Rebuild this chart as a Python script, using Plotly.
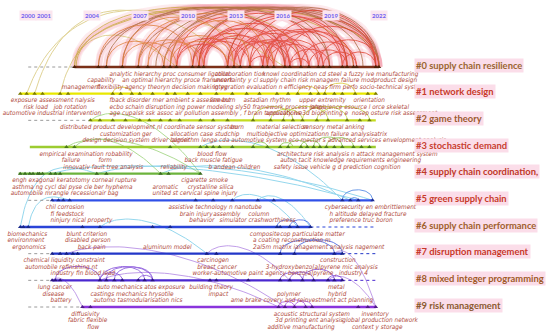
import plotly.graph_objects as go

# ---------------- data ----------------
cluster_names = ["#0 supply chain resilience", "#1 network design", "#2 game theory",
                 "#3 stochastic demand", "#4 supply chain coordination,", "#5 green supply chain",
                 "#6 supply chain performance", "#7 disruption management",
                 "#8 mixed integer programming", "#9 risk management"]

year_ticks = [2000, 2001, 2004, 2007, 2010, 2013, 2016, 2019, 2022]

line_start = [2002.9, 1999.5, 2003.9, 2000.1, 1999.4, 2001.5, 1999.5, 2001.5, 2001.5, 2003.4]
line_end = [2022.0, 2021.8, 2021.8, 2021.8, 2010.8, 2021.6, 2017.7, 2019.7, 2019.7, 2021.8]

nodes = [
    [2002.9, 2004.4, 2004.9, 2005.9, 2006.9, 2007.5, 2008.5, 2008.9, 2009.3, 2010.3, 2010.7, 2011.0,
     2012.5, 2012.9, 2013.3, 2013.9, 2014.7, 2015.0, 2015.4, 2016.1, 2016.4, 2017.1, 2017.6, 2018.2,
     2018.5, 2018.9, 2019.7, 2020.0, 2020.4, 2020.6, 2021.8, 2022.0],
    [1999.5, 1999.9, 2000.4, 2000.9, 2002.0, 2002.5, 2005.3, 2005.8, 2006.5, 2007.0, 2007.8, 2008.7,
     2009.2, 2010.0, 2010.8, 2011.8, 2012.8, 2013.7, 2014.5, 2015.6, 2016.3, 2016.9, 2017.7, 2018.2,
     2018.6, 2019.2, 2019.7, 2020.5, 2021.3, 2021.8],
    [2003.9, 2004.5, 2005.3, 2006.1, 2007.0, 2007.6, 2008.3, 2008.9, 2009.5, 2010.8, 2011.6, 2012.5,
     2014.1, 2015.2, 2016.0, 2016.6, 2017.2, 2018.1, 2018.8, 2020.0, 2020.8, 2021.4],
    [2002.4, 2002.9, 2008.9, 2010.8, 2011.2, 2011.6, 2012.0, 2012.8, 2014.1, 2015.0, 2015.8, 2016.3,
     2017.1, 2017.5, 2017.9, 2018.3, 2018.7, 2019.2, 2019.7, 2020.4, 2020.9, 2021.4],
    [1999.5, 1999.8, 2000.1, 2000.3, 2000.6, 2000.7, 2000.9, 2001.4, 2001.7, 2002.0, 2004.3, 2004.9,
     2008.3, 2008.8, 2010.8],
    [2001.5, 2001.9, 2002.2, 2002.6, 2010.5, 2011.6, 2012.8, 2014.4, 2015.4, 2019.7, 2020.2, 2020.7,
     2021.6],
    [1999.5, 1999.7, 2000.0, 2003.4, 2004.5, 2007.8, 2008.9, 2015.6, 2015.8, 2016.4, 2016.9, 2017.7],
    [2001.5, 2002.0, 2002.4, 2002.8, 2003.1, 2011.2, 2011.8, 2015.8, 2016.7, 2019.2, 2019.7],
    [2001.5, 2001.7, 2002.0, 2004.5, 2004.9, 2005.4, 2005.9, 2006.9, 2007.3, 2007.8, 2011.4, 2011.8,
     2013.8, 2015.8, 2016.4, 2017.2, 2017.9, 2018.8, 2019.2, 2019.7],
    [2003.4, 2003.9, 2015.7, 2016.1, 2016.7, 2017.4, 2017.8, 2020.7, 2021.3, 2021.8],
]

# co-citation arcs inside a cluster: (cluster, from year, to year)
arcs = [
    (0, 2002.9, 2022.0), (0, 2002.9, 2017.1), (0, 2004.4, 2021.8), (0, 2004.9, 2018.9),
    (0, 2005.9, 2016.1), (0, 2006.9, 2022.0), (0, 2008.5, 2022.0), (0, 2008.9, 2018.9),
    (0, 2010.3, 2022.0), (0, 2010.7, 2020.0), (0, 2011.0, 2017.1), (0, 2012.5, 2022.0),
    (0, 2012.9, 2020.0), (0, 2013.3, 2018.5), (0, 2013.9, 2021.8), (0, 2014.7, 2019.7),
    (0, 2015.0, 2018.2), (0, 2015.4, 2020.4), (0, 2016.1, 2021.8), (0, 2016.4, 2018.9),
    (0, 2017.1, 2020.6), (0, 2017.6, 2020.0), (0, 2018.2, 2022.0), (0, 2007.5, 2011.0),
    (0, 2008.5, 2012.9), (0, 2008.9, 2012.5), (0, 2009.3, 2013.3), (0, 2010.3, 2013.9),
    (0, 2010.7, 2014.7), (0, 2011.0, 2015.4), (0, 2012.5, 2016.1), (0, 2012.9, 2016.4),
    (0, 2013.3, 2017.1), (0, 2013.9, 2017.6), (0, 2014.7, 2018.5), (0, 2006.9, 2010.7),
    (0, 2005.9, 2009.3), (0, 2004.9, 2008.5), (0, 2009.3, 2016.4), (0, 2010.7, 2018.2),
    (0, 2012.5, 2019.7), (0, 2007.5, 2015.0), (0, 2006.9, 2013.9), (0, 2005.9, 2012.9),
    (0, 2004.4, 2010.3), (0, 2018.5, 2020.6), (0, 2019.7, 2021.8), (0, 2013.9, 2015.4),
    (0, 2016.4, 2017.6), (0, 2003.0, 2020.4), (0, 2008.0, 2021.0),
    (0, 2009.3, 2012.5), (0, 2010.3, 2015.0), (0, 2011.0, 2016.4), (0, 2012.9, 2017.6),
    (0, 2014.7, 2020.0), (0, 2015.0, 2021.8), (0, 2008.9, 2015.4), (0, 2010.7, 2016.1),
    (1, 2016.9, 2018.2), (1, 2018.6, 2020.5), (1, 2005.3, 2006.5),
    (2, 2015.2, 2017.2), (2, 2016.0, 2018.8), (2, 2017.2, 2020.0), (2, 2018.1, 2021.4), (2, 2014.1, 2016.6),
    (3, 2015.8, 2016.6), (3, 2016.3, 2017.5), (3, 2017.1, 2018.3), (3, 2014.1, 2015.0),
    (3, 2018.7, 2020.4), (3, 2017.9, 2019.7),
    (5, 2019.7, 2021.6), (5, 2020.2, 2020.7),
    (6, 2016.4, 2017.7), (6, 2015.6, 2016.9),
    (7, 2015.8, 2019.2), (7, 2016.7, 2019.7),
    (8, 2004.5, 2005.9), (8, 2004.9, 2007.3), (8, 2005.4, 2007.8), (8, 2006.9, 2007.8),
    (8, 2004.5, 2007.8), (8, 2001.7, 2004.5), (8, 2015.8, 2017.2), (8, 2016.4, 2017.9),
    (8, 2017.2, 2019.2), (8, 2018.8, 2019.7),
    (9, 2015.7, 2016.7), (9, 2016.1, 2017.4), (9, 2016.7, 2017.8),
]

# links between clusters: (cluster a, year a, cluster b, year b)
links = [
    (1, 1999.9, 0, 2016.1), (1, 2000.4, 0, 2013.3), (1, 2002.0, 0, 2009.3),
    (3, 2002.4, 4, 2010.8), (2, 2003.9, 4, 2010.8), (3, 2002.9, 4, 2008.3),
    (4, 2004.3, 5, 2021.6), (4, 2008.3, 5, 2020.2), (3, 2010.8, 5, 2019.7), (4, 2001.4, 5, 2020.7),
    (6, 2004.5, 7, 2011.2), (5, 2012.8, 6, 2016.9), (5, 2014.4, 6, 2017.7),
    (6, 1999.5, 4, 2004.3), (6, 2000.0, 5, 2002.6),
    (8, 2018.8, 9, 2021.8), (7, 2019.2, 9, 2021.8), (7, 2011.2, 8, 2016.4),
    (8, 2004.5, 9, 2015.7), (8, 2001.5, 9, 2003.4), (7, 2002.4, 9, 2016.1),
]

# keyword labels: (cluster, row, year, text)
keywords = [
    (0, 1, 2005.1, "analytic hierarchy proc consumer ligation"),
    (0, 1, 2011.7, "collaboration tion"),
    (0, 1, 2014.7, "knowl coordination cd steel a fuzzy ive manufacturing"),
    (0, 2, 2003.7, "capability"),
    (0, 2, 2005.9, "an optimal hierarchy proce framework"),
    (0, 2, 2011.6, "uncertainty y cl supply chain risk managem failure modproduct design"),
    (0, 3, 2002.1, "management"),
    (0, 3, 2004.3, "flexibility agency theoryn decision making yy"),
    (0, 3, 2011.6, "integration evaluation n efficiency neas firm perfo socio-technical system"),
    (1, 1, 1998.9, "exposure assessment nalysis"),
    (1, 1, 2005.1, "fback disorder mer ambient s assessment"),
    (1, 1, 2011.4, "line burn"),
    (1, 1, 2013.5, "astadian rhythm"),
    (1, 1, 2017.0, "upper extremity"),
    (1, 1, 2020.4, "orientation"),
    (1, 2, 1999.7, "risk load"),
    (1, 2, 2001.6, "job rotation"),
    (1, 2, 2005.1, "ecbo schain disruption ing power modeling sly50 framework process (ahp)"),
    (1, 2, 2017.7, "prevalence esource l orce skeletal"),
    (1, 3, 1998.4, "automotive industrial intervention"),
    (1, 3, 2005.1, "age cupalsk ssk assoc air pollution assembly , f brain tumuality ive"),
    (1, 3, 2014.9, "applications 3d bioprinting e  nosep osture risk assessment"),
    (2, 1, 2002.0, "distributed product development nl coordinate sensor system"),
    (2, 1, 2012.7, "burn"),
    (2, 1, 2014.3, "material selection"),
    (2, 1, 2017.2, "sensory metal anking"),
    (2, 2, 2004.5, "customization ger"),
    (2, 2, 2008.9, "allocation case studchip"),
    (2, 2, 2013.7, "multiobjective optimizationn failure analysisatrix"),
    (2, 3, 2003.4, "design decision system driver barrier"),
    (2, 3, 2009.0, "algorithm lenge cda automotive system eco mector s advanced services envelopment analysis"),
    (3, 1, 2000.7, "empirical examination robability"),
    (3, 1, 2010.6, "blood flow"),
    (3, 1, 2015.6, "architecture risk analysis n attack management system"),
    (3, 2, 2002.1, "failure"),
    (3, 2, 2004.4, "form"),
    (3, 2, 2009.8, "back muscle fatigue"),
    (3, 2, 2015.8, "auton tacit knowledge requirements engineering"),
    (3, 3, 2002.2, "innovativ fault tree analysis"),
    (3, 3, 2008.3, "reliability"),
    (3, 3, 2011.3, "b andean children"),
    (3, 3, 2015.4, "safety issue vehicle g d prediction cognition"),
    (4, 1, 1999.0, "engh exagonal keratotomy corneal rupture"),
    (4, 1, 2009.6, "cigarette smoke"),
    (4, 2, 1999.0, "asthma ng cycl dal pyse cle ber hyphema"),
    (4, 2, 2007.8, "aromatic"),
    (4, 2, 2010.0, "crystalline silica"),
    (4, 3, 1998.9, "automobile mrangle recession"),
    (4, 3, 2004.4, "air bag"),
    (4, 3, 2007.8, "united st cervical spine injury"),
    (5, 1, 2001.1, "chil corrosion"),
    (5, 1, 2008.8, "assistive technology n nanotube"),
    (5, 1, 2018.6, "cybersecurity en embrittlement"),
    (5, 2, 2001.4, "fi feedstock"),
    (5, 2, 2009.5, "brain injury"),
    (5, 2, 2011.6, "assembly"),
    (5, 2, 2013.8, "column"),
    (5, 2, 2018.9, "h altitude delayed fracture"),
    (5, 3, 2001.4, "ninjury nical property"),
    (5, 3, 2010.1, "behavior"),
    (5, 3, 2012.0, "simulator crashworthiness"),
    (5, 3, 2018.9, "preference truc boron"),
    (6, 1, 1998.7, "biomechanics"),
    (6, 1, 2002.4, "blunt criterion"),
    (6, 1, 2013.9, "composite"),
    (6, 1, 2015.8, "cop particulate matter"),
    (6, 2, 1998.7, "environment"),
    (6, 2, 2002.3, "disabled person"),
    (6, 2, 2014.1, "a coating reconstruction m"),
    (6, 3, 1999.0, "ergonomics"),
    (6, 3, 2003.1, "back pain"),
    (6, 3, 2007.2, "aluminum model"),
    (6, 3, 2014.1, "2al5m matrix ianagement analysis nagement"),
    (7, 1, 1999.7, "chemical liquidity constraint"),
    (7, 1, 2010.6, "carcinogen"),
    (7, 1, 2018.3, "construction"),
    (7, 2, 1999.8, "automobile refinishing nt"),
    (7, 2, 2010.6, "breast cancer"),
    (7, 2, 2014.9, "3-hydroxybenzo[a]pyrene mic analysis"),
    (7, 3, 2001.4, "industry fin blood lead"),
    (7, 3, 2010.3, "worker-automotive paint agency benzo[a]pyrene , industry 4"),
    (8, 1, 2000.6, "lung cancer"),
    (8, 1, 2004.3, "auto mechanics atos exposure"),
    (8, 1, 2010.1, "building theory"),
    (8, 1, 2018.8, "metal"),
    (8, 2, 2000.9, "disease"),
    (8, 2, 2003.9, "castings mechanics hrysotile"),
    (8, 2, 2011.3, "impact"),
    (8, 2, 2015.6, "polymer"),
    (8, 2, 2018.8, "hybrid"),
    (8, 3, 2001.4, "battery"),
    (8, 3, 2004.1, "automo tasmodularisation nics"),
    (8, 3, 2012.7, "ame brake covery and reinvestment act planning"),
    (9, 1, 2002.7, "diffusivity"),
    (9, 1, 2015.4, "acoustic structural system"),
    (9, 1, 2020.9, "inventory"),
    (9, 2, 2002.5, "fabric flexible"),
    (9, 2, 2015.5, "3d printing ent analysis"),
    (9, 2, 2019.7, "global production network"),
    (9, 3, 2003.7, "flow"),
    (9, 3, 2015.0, "additive manufacturing"),
    (9, 3, 2020.3, "context y storage"),
]

# ---------------- styles ----------------
PX_YEAR = 15.944
PX_CL = 26.667
X0 = 2004 - 92 / PX_YEAR
X1 = 2004 + (550 - 92) / PX_YEAR
Y0 = -67 / PX_CL
Y1 = (335 - 67) / PX_CL

line_colors = ["#7a3018", "#e8e800", "#c4dc20", "#9ccc30", "#6cb33c", "#3050e8",
               "#2a44d8", "#2236c8", "#4a28d0", "#8a34dc"]
node_colors = ["#4a2008", "#7a7a00", "#6a7a10", "#4a7a18", "#3a6a20", "#1a2a90",
               "#18288a", "#141e80", "#2a1480", "#501a88"]
arc_colors = ["#e03a28", "#d8c020", "#b8d030", "#80c040", "#60b040", "#3a78e0",
              "#3a60e0", "#3050d8", "#7a40d8", "#a040e0"]
label_colors = ["#9a6530", "#c83a2a", "#9b5a30", "#c84030", "#c03828", "#c83a2a",
                "#a0602c", "#c8382a", "#a05a28", "#8a5a30"]
row_off = [0, 0.27, 0.51, 0.75]
kw_font = "Liberation Sans Narrow, DejaVu Sans Condensed, Arial Narrow, sans-serif"


def arc0_color(a, b):
    if a < 2004:
        return "#c8a83c"
    if b - a > 9:
        return "#a8653a"
    if a < 2009:
        return "#e07a35"
    return "#e03a28"


def link_color(ca, cb):
    if ca <= 1 and cb <= 1:
        return "#c8b040"
    if max(ca, cb) <= 4:
        return "#70c040"
    if min(ca, cb) >= 7:
        return "#9050d8"
    return "#40b8e0"


def bez(x1, y1, x2, y2, h_px):
    top = min(y1, y2) - 1.33 * h_px / PX_CL
    xs, ys = [], []
    if y1 == y2:
        c1 = (x1, top)
        c2 = (x2, top)
    else:
        c1 = (x1 + (x2 - x1) * 0.15, top)
        c2 = (x1 + (x2 - x1) * 0.55, top)
    n = 40
    for i in range(n + 1):
        t = i / n
        u = 1 - t
        xs.append(u**3 * x1 + 3 * u * u * t * c1[0] + 3 * u * t * t * c2[0] + t**3 * x2)
        ys.append(u**3 * y1 + 3 * u * u * t * c1[1] + 3 * u * t * t * c2[1] + t**3 * y2)
    return xs, ys


fig = go.Figure()

gx, gy = [], []
groups = {}
for c, a, b in arcs:
    w = (b - a) * PX_YEAR
    if c == 0:
        h = min(0.45 * w, 60)
        col = arc0_color(a, b)
    else:
        h = min(0.35 * w, 14)
        col = arc_colors[c]
    xs, ys = bez(a, c, b, c, h)
    groups.setdefault(col, ([], []))
    groups[col][0].extend(xs + [None])
    groups[col][1].extend(ys + [None])
    if c == 0:
        gx.extend(xs + [None])
        gy.extend(ys + [None])

fig.add_trace(go.Scatter(x=gx, y=gy, mode="lines", line=dict(color="rgba(245,130,150,0.16)", width=7),
                         hoverinfo="skip", showlegend=False))

lgroups = {}
for ca, ya, cb, yb in links:
    w = abs(yb - ya) * PX_YEAR
    h = min(0.3 * w, 60) if min(ca, cb) == 0 else min(0.12 * w, 10)
    xs, ys = bez(ya, ca, yb, cb, h)
    col = link_color(ca, cb)
    lgroups.setdefault(col, ([], []))
    lgroups[col][0].extend(xs + [None])
    lgroups[col][1].extend(ys + [None])

for col, (xs, ys) in lgroups.items():
    fig.add_trace(go.Scatter(x=xs, y=ys, mode="lines", line=dict(color=col, width=1), opacity=0.55,
                             hoverinfo="skip", showlegend=False))

for col, (xs, ys) in groups.items():
    fig.add_trace(go.Scatter(x=xs, y=ys, mode="lines", line=dict(color=col, width=1), opacity=0.75,
                             hoverinfo="skip", showlegend=False))

for c in range(len(cluster_names)):
    s, e = line_start[c], line_end[c]
    if s > 2000.3:
        fig.add_trace(go.Scatter(x=[2000, s], y=[c, c], mode="lines",
                                 line=dict(color="#9a9a9a", width=1, dash="dot"),
                                 hoverinfo="skip", showlegend=False))
    if e < 2021.5 and c != 4:
        fig.add_trace(go.Scatter(x=[e, 2021.8], y=[c, c], mode="lines",
                                 line=dict(color=line_colors[c], width=1, dash="dot"),
                                 hoverinfo="skip", showlegend=False))
    fig.add_trace(go.Scatter(x=[s, e], y=[c, c], mode="lines",
                             line=dict(color=line_colors[c], width=2.4),
                             hoverinfo="skip", showlegend=False))
    fig.add_trace(go.Scatter(x=nodes[c], y=[c] * len(nodes[c]), mode="markers",
                             marker=dict(symbol="triangle-up", size=4, color=node_colors[c]),
                             hoverinfo="skip", showlegend=False))

kx = [k[2] for k in keywords]
ky = [k[0] + row_off[k[1]] for k in keywords]
kt = [k[3] for k in keywords]
fig.add_trace(go.Scatter(x=kx, y=ky, mode="text", text=kt, textposition="middle right",
                         textfont=dict(family=kw_font, size=6.4, color="#b04a3c", style="italic"),
                         hoverinfo="skip", showlegend=False))

annotations = []
for yr in year_ticks:
    annotations.append(dict(x=yr, y=Y0 + 15 / PX_CL, xref="x", yref="y", text=str(yr), showarrow=False,
                            font=dict(family="Lato, Arial, sans-serif", size=6,
                                      color="#7060f0", weight="bold"),
                            bgcolor="#fbe6ef", borderpad=1))
for c, name in enumerate(cluster_names):
    annotations.append(dict(x=X0 + 414 / PX_YEAR, y=c - 2 / PX_CL, xref="x", yref="y", text=name,
                            showarrow=False, xanchor="left", yanchor="middle",
                            font=dict(family="Lato, Arial, sans-serif",
                                      size=9.4, color=label_colors[c], weight="bold"),
                            bgcolor="#fbdde9", borderpad=1))

fig.update_layout(
    width=550, height=335, margin=dict(l=0, r=0, t=0, b=0),
    paper_bgcolor="white", plot_bgcolor="white",
    xaxis=dict(range=[X0, X1], visible=False, fixedrange=True),
    yaxis=dict(range=[Y1, Y0], visible=False, fixedrange=True),
    annotations=annotations, showlegend=False,
)

fig.write_html("out.html", config={"displayModeBar": False},
               post_script="document.body.style.margin='0px';document.body.style.overflow='hidden';")
